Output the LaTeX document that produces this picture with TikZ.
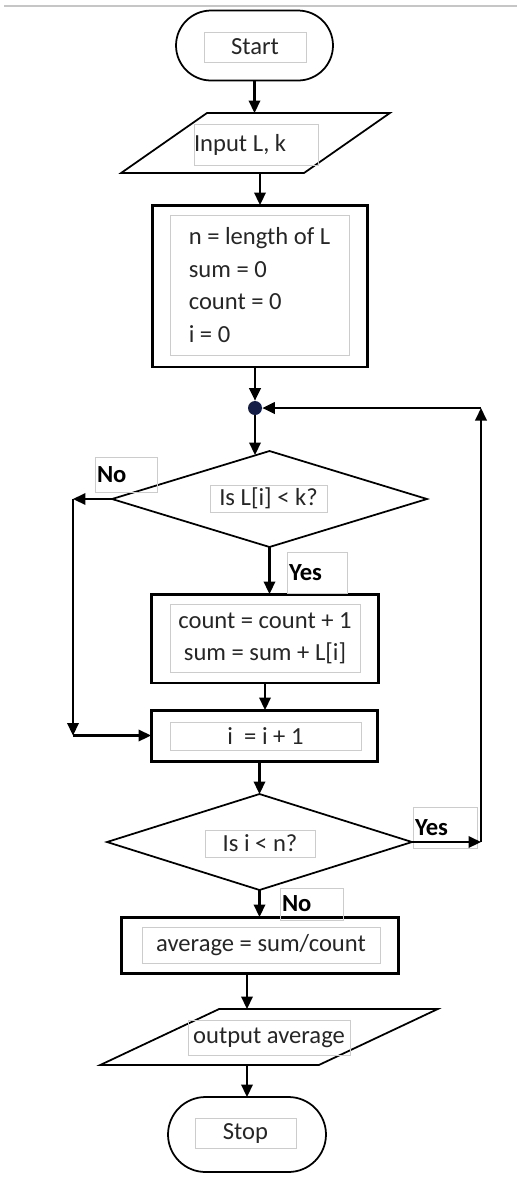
\documentclass[tikz,border=0pt]{standalone}
\usepackage{fontspec}
\setmainfont{Carlito}
\usetikzlibrary{shapes.geometric,arrows.meta}
\definecolor{navy}{RGB}{20,30,70}
\tikzset{
	base/.style={draw=black,line width=1pt,inner sep=0pt,outer sep=0pt},
	term/.style={base,rounded corners=0.7cm},
	proc/.style={base,line width=1.7pt},
	io/.style={base,trapezium,trapezium stretches=true,inner sep=2pt},
	dec/.style={base,diamond,inner sep=2pt},
	txt/.style={draw=gray!40,line width=0.4pt,inner sep=0pt,font=\fontsize{14}{18.5}\selectfont,text=black!85},
	lab/.style={txt,font=\bfseries\fontsize{14}{17}\selectfont,text=black,align=flush left},
	arr/.style={line width=1.2pt,-{Triangle[length=2.5mm,width=2.3mm]}},
}
\begin{document}
\begin{tikzpicture}[x=0.02cm,y=-0.02cm]
	\useasboundingbox (0,0) rectangle (517,1178);
	\draw[gray!45,line width=1pt] (4,6) -- (517,6);
	\node[term,minimum width=3.14cm,minimum height=1.4cm] (start) at (254.5,45.5) {};
	\node[txt,minimum width=2.04cm,minimum height=0.6cm] (startTxt) at (255,47) {Start};
	\node[io,trapezium left angle=48.5,trapezium right angle=131.5,minimum width=5.38cm,minimum height=1.2cm] (in) at (255.5,143) {};
	\node[txt,text width=2.48cm,minimum height=0.82cm,align=flush left] (inTxt) at (256,144.5) {Input L, k};
	\node[proc,minimum width=4.32cm,minimum height=3.24cm] (init) at (260,286) {};
	\node[txt,minimum width=3.58cm,minimum height=2.8cm,align=left] (initTxt) at (259.5,285) {n = length of L\\sum = 0\\count = 0\\i = 0};
	\node[circle,fill=navy,minimum size=0.28cm,inner sep=0pt] (dot) at (255,408) {};
	\node[dec,minimum width=6.3cm,minimum height=1.92cm] (d1) at (269.5,499) {};
	\node[txt,minimum width=2.34cm,minimum height=0.54cm] (d1Txt) at (268.5,498.5) {Is L[i] < k?};
	\node[proc,minimum width=4.56cm,minimum height=1.78cm] (upd) at (265,638.5) {};
	\node[txt,minimum width=3.8cm,minimum height=1.36cm,align=center] (updTxt) at (265,638) {count = count + 1\\sum = sum + L[i]};
	\node[proc,minimum width=4.54cm,minimum height=1.02cm] (inc) at (264.5,735.5) {};
	\node[txt,minimum width=3.82cm,minimum height=0.56cm] (incTxt) at (265.5,736) {i \ = i + 1};
	\node[dec,minimum width=6.1cm,minimum height=1.92cm] (d2) at (259.5,842) {};
	\node[txt,minimum width=2.2cm,minimum height=0.54cm] (d2Txt) at (260,843.5) {Is i < n?};
	\node[proc,minimum width=5.56cm,minimum height=1.12cm] (avg) at (260,945) {};
	\node[txt,minimum width=4.76cm,minimum height=0.72cm] (avgTxt) at (261,945) {average = sum/count};
	\node[io,trapezium left angle=40,trapezium right angle=140,minimum width=6.76cm,minimum height=1.12cm] (out) at (269,1037) {};
	\node[txt,minimum width=3.24cm,minimum height=0.7cm] (outTxt) at (269,1037.5) {output average};
	\node[term,minimum width=3.16cm,minimum height=1.5cm,rounded corners=0.75cm] (stop) at (247,1134.5) {};
	\node[txt,minimum width=2.02cm,minimum height=0.6cm] (stopTxt) at (245.5,1133) {Stop};
	\node[lab,text width=1.16cm,inner xsep=0.04cm,minimum height=0.7cm] (no1) at (126,474.5) {No};
	\node[lab,text width=1.12cm,inner xsep=0.04cm,minimum height=0.82cm] (yes1) at (317,572.5) {Yes};
	\node[lab,text width=1.2cm,inner xsep=0.04cm,minimum height=0.82cm] (yes2) at (445,827.5) {Yes};
	\node[lab,text width=1.18cm,inner xsep=0.04cm,minimum height=0.64cm] (no2) at (311.5,904) {No};
	\draw[arr] (start.south) -- (start.south |- in.north);
	\draw[arr] (init.north |- in.south) -- (init.north);
	\draw[arr] (dot |- init.south) -- (dot.north);
	\draw[arr,shorten >=-0.08cm] (dot.south) -- (dot.south |- d1.north);
	\draw[arr] (d1.south) -- (d1.south |- upd.north);
	\draw[arr] (upd.south) -- (upd.south |- inc.north);
	\draw[arr] (d2.north |- inc.south) -- (d2.north);
	\draw[arr] (d2.south) -- (d2.south |- avg.north);
	\draw[arr] (stop.north |- avg.south) -- (stop.north |- out.north);
	\draw[arr] (stop.north |- out.south) -- (stop.north);
	\coordinate (noL) at (73,499);
	\coordinate (noD) at (noL |- inc.west);
	\draw[arr] (d1.west) -- (noL);
	\draw[arr] (noL) -- (noD);
	\draw[arr] (noD) -- (inc.west);
	\coordinate (yesR) at (481,842);
	\coordinate (yesT) at (yesR |- dot);
	\draw[arr] (d2.east) -- (yesR);
	\draw[arr] (yesR) -- (yesT);
	\draw[arr] (yesT) -- (dot.east);
\end{tikzpicture}
\end{document}
